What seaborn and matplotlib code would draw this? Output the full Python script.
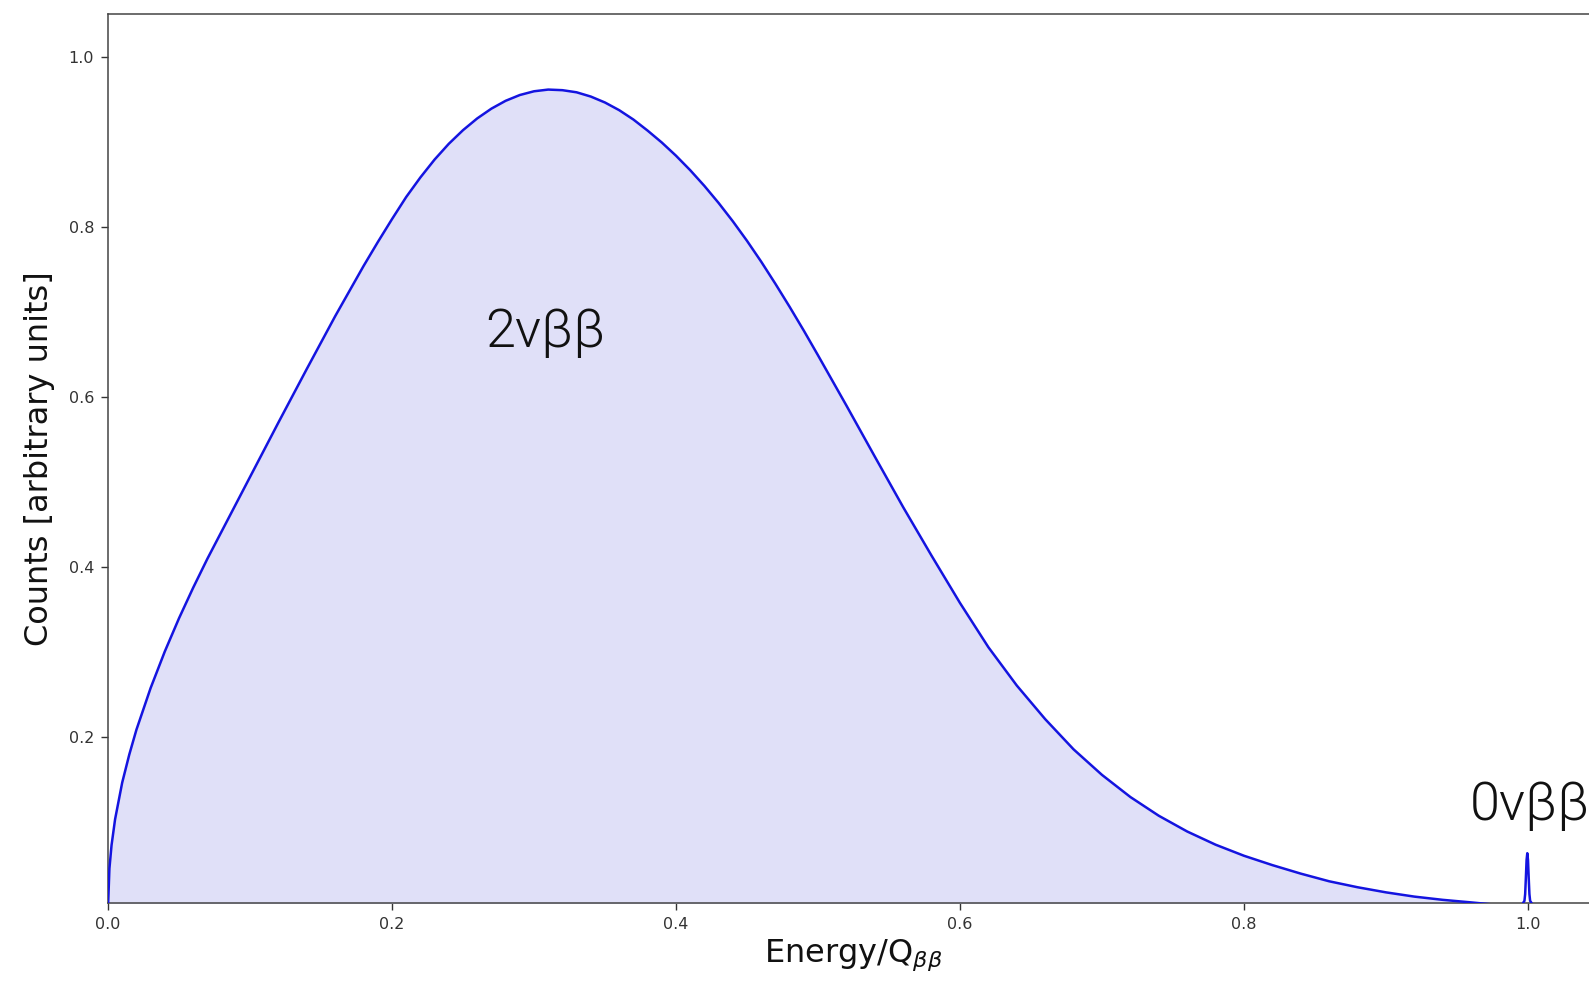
import matplotlib
matplotlib.use("Agg")
import matplotlib.pyplot as plt
import seaborn as sns
import pandas as pd

# 2vbb continuous spectrum
energy_2v = [0.0, 0.001, 0.0025, 0.005, 0.01, 0.015, 0.02, 0.03, 0.04, 0.05,
             0.06, 0.07, 0.08, 0.10, 0.12, 0.14, 0.16, 0.18, 0.19, 0.20,
             0.21, 0.22, 0.23, 0.24, 0.25, 0.26, 0.27, 0.28, 0.29, 0.30,
             0.31, 0.32, 0.33, 0.34, 0.35, 0.36, 0.37, 0.38, 0.39, 0.40,
             0.41, 0.42, 0.43, 0.44, 0.45, 0.46, 0.47, 0.48, 0.49, 0.50,
             0.52, 0.54, 0.56, 0.58, 0.60, 0.62, 0.64, 0.66, 0.68, 0.70,
             0.72, 0.74, 0.76, 0.78, 0.80, 0.82, 0.84, 0.86, 0.88, 0.90,
             0.92, 0.94, 0.96, 0.98, 1.0]
counts_2v = [0.0, 0.046, 0.0735, 0.104, 0.147, 0.180, 0.209, 0.258, 0.301, 0.340,
             0.376, 0.410, 0.442, 0.506, 0.570, 0.633, 0.695, 0.754, 0.782, 0.809,
             0.835, 0.858, 0.879, 0.8975, 0.9135, 0.9273, 0.9388, 0.948, 0.9548, 0.9592,
             0.9612, 0.9605, 0.958, 0.953, 0.946, 0.937, 0.926, 0.913, 0.899, 0.8835,
             0.8665, 0.848, 0.828, 0.8065, 0.7835, 0.759, 0.733, 0.706, 0.678, 0.649,
             0.590, 0.530, 0.4705, 0.4135, 0.358, 0.306, 0.261, 0.2215, 0.186, 0.156,
             0.130, 0.108, 0.0895, 0.074, 0.061, 0.050, 0.040, 0.031, 0.024, 0.018,
             0.013, 0.0092, 0.0062, 0.003, 0.0]

# 0vbb peak
energy_0v = [0.9965, 0.9975, 0.998, 0.9985, 0.999, 0.9995, 1.000, 1.0005, 1.001, 1.0015, 1.0025]
counts_0v = [0.0055, 0.008, 0.016, 0.035, 0.056, 0.064, 0.056, 0.035, 0.016, 0.008, 0.0055]

x_ticks = [0.0, 0.2, 0.4, 0.6, 0.8, 1.0]
y_ticks = [0.2, 0.4, 0.6, 0.8, 1.0]

label_2v = "2νββ"
label_0v = "0νββ"

sns.set_style("ticks")
plt.rcParams['font.family'] = ['DejaVu Sans']

df2 = pd.DataFrame({"E": energy_2v, "C": counts_2v})
df0 = pd.DataFrame({"E": energy_0v, "C": counts_0v})

fig = plt.figure(figsize=(15.89, 9.82), dpi=100)
ax = fig.add_axes([108 / 1589, 79 / 982, 1.05 * 1420 / 1589, 889 / 982])

line_color = "#1414e0"
ax.fill_between(df2["E"], df2["C"], 0, color="#e0e0f8", lw=0, zorder=1)
sns.lineplot(data=df2, x="E", y="C", ax=ax, color=line_color, lw=1.8, sort=False, zorder=3)
sns.lineplot(data=df0, x="E", y="C", ax=ax, color=line_color, lw=1.8, sort=False, zorder=3)

ax.set_xlim(0, 1.05)
ax.set_ylim(0.0055, 1.05)
ax.set_xticks(x_ticks)
ax.set_xticklabels([f"{v:.1f}" for v in x_ticks])
ax.set_yticks(y_ticks)
ax.set_yticklabels([f"{v:.1f}" for v in y_ticks])
ax.tick_params(axis="both", labelsize=11.5, colors="#333333", length=5, width=1.0, pad=5)

for s in ax.spines.values():
    s.set_color("#444444")
    s.set_linewidth(1.1)

ax.set_xlabel(r"Energy/Q$_{\beta\beta}$", fontsize=23, color="#111111", labelpad=4)
ax.set_ylabel("Counts [arbitrary units]", fontsize=23, color="#111111", labelpad=10)

ax.text(0.2655, 0.659, label_2v, fontsize=39, family=["Roboto", "DejaVu Sans"],
        fontweight=300, color="#111111", ha="left", va="baseline", zorder=4)
ax.text(0.959, 0.103, label_0v, fontsize=39, family=["Roboto", "DejaVu Sans"],
        fontweight=300, color="#111111", ha="left", va="baseline", zorder=4,
        clip_on=False)

fig.savefig("out.png", dpi=100, facecolor="white")
